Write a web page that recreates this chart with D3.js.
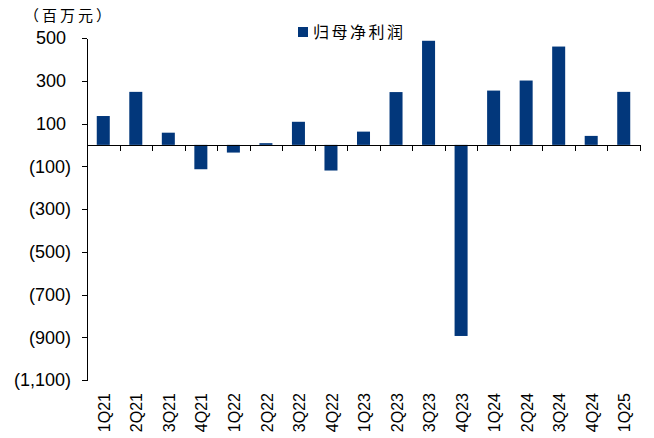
<!DOCTYPE html>
<html>
<head>
<meta charset="utf-8">
<script src="https://cdn.jsdelivr.net/npm/d3@7"></script>
<style>
  body { margin: 0; background: #fff; }
  .axis path, .axis line { stroke: #000; shape-rendering: crispEdges; }
  .axis text { font-family: "Liberation Sans", Arial, sans-serif; font-size: 18px; fill: #000; }
</style>
</head>
<body>
<script>
var quarters = ["1Q21","2Q21","3Q21","4Q21","1Q22","2Q22","3Q22","4Q22","1Q23",
                "2Q23","3Q23","4Q23","1Q24","2Q24","3Q24","4Q24","1Q25"];
var profit = [135, 248, 57, -114, -36, 8, 108, -120, 62,
              247, 487, -894, 254, 301, 460, 42, 248];
var yTicks = [500, 300, 100, -100, -300, -500, -700, -900, -1100];
var seriesName = "归母净利润";
var unitLabel = "（百万元）";

var margin = {top: 38, right: 14, bottom: 58, left: 87},
    width = 654 - margin.left - margin.right,
    height = 438 - margin.top - margin.bottom;

var svg = d3.select("body").append("svg")
    .attr("width", 654)
    .attr("height", 438)
  .append("g")
    .attr("transform", "translate(" + margin.left + "," + margin.top + ")");

var x = d3.scaleBand()
    .domain(quarters)
    .range([0, width])
    .paddingInner(0.6)
    .paddingOuter(0.3);

var xb = d3.scaleLinear()
    .domain([0, quarters.length])
    .range([0, width]);

var y = d3.scaleLinear()
    .domain([-1100, 500])
    .range([height, 0]);

var fmt = d3.format(",");

// bars
svg.selectAll(".bar")
    .data(profit)
  .enter().append("rect")
    .attr("class", "bar")
    .attr("x", function(d, i) { return x(quarters[i]); })
    .attr("width", x.bandwidth())
    .attr("y", function(d) { return y(Math.max(0, d)); })
    .attr("height", function(d) { return Math.abs(y(d) - y(0)); })
    .attr("fill", "#02377b");

// y axis
var yAxis = d3.axisLeft(y)
    .tickValues(yTicks)
    .tickSize(5)
    .tickSizeOuter(0)
    .tickPadding(11)
    .tickFormat(function(d) { return d < 0 ? "(" + fmt(-d) + ")" : fmt(d); });

svg.append("g")
    .attr("class", "y axis")
    .call(yAxis)
  .selectAll("text")
    .attr("x", function(d) { return d < 0 ? -16 : -21; });

// zero line with boundary ticks
svg.append("g")
    .attr("class", "x axis")
    .attr("transform", "translate(0," + y(0) + ")")
    .call(d3.axisBottom(xb).ticks(quarters.length).tickSize(6).tickSizeOuter(0).tickFormat(""));

// category labels, rotated
svg.selectAll(".xlabel")
    .data(quarters)
  .enter().append("text")
    .attr("class", "xlabel")
    .attr("transform", function(d) {
        return "translate(" + (x(d) + x.bandwidth() / 2 + 1) + "," + (height + 13) + ") rotate(-90)";
    })
    .attr("dy", ".35em")
    .attr("text-anchor", "end")
    .style("font-family", "'Liberation Sans', Arial, sans-serif")
    .style("font-size", "16px")
    .text(function(d) { return d; });

// unit label
svg.append("text")
    .attr("x", 24 - margin.left)
    .attr("y", 21 - margin.top)
    .style("font-family", "'Noto Sans CJK SC', sans-serif")
    .style("font-size", "15px")
    .style("letter-spacing", "3px")
    .text(unitLabel);

// legend
var legend = svg.append("g")
    .attr("transform", "translate(" + (298 - margin.left) + "," + (27 - margin.top) + ")");
legend.append("rect")
    .attr("width", 10)
    .attr("height", 10)
    .attr("fill", "#02377b");
legend.append("text")
    .attr("x", 15)
    .attr("y", 11)
    .style("font-family", "'Noto Sans CJK SC', sans-serif")
    .style("font-size", "16px")
    .style("letter-spacing", "2.5px")
    .text(seriesName);
</script>
</body>
</html>
